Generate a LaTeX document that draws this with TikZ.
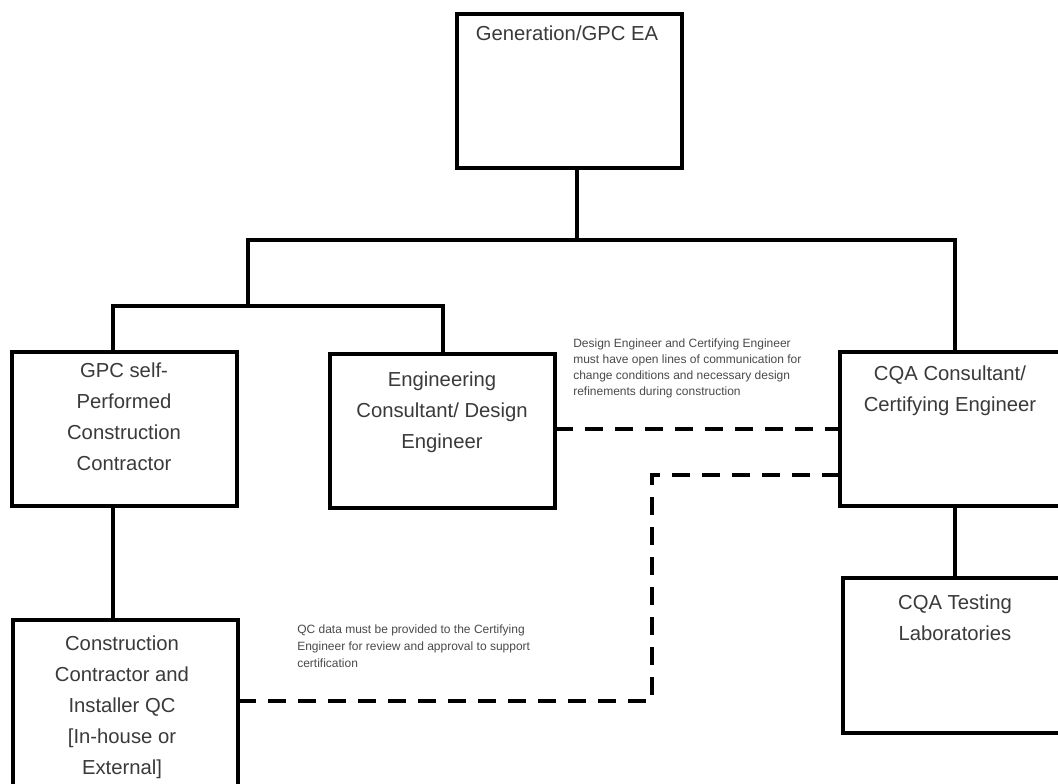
\documentclass[tikz,border=0pt]{standalone}
\usepackage{fontspec}
\setmainfont{Liberation Sans}
\definecolor{txtgray}{HTML}{3A3A3A}
\definecolor{notegray}{HTML}{4A4A4A}
\begin{document}
\begin{tikzpicture}[x=0.75pt,y=-0.75pt,
  box/.style={draw=black, line width=3.3pt, rectangle, inner sep=0pt, outer sep=0pt,
    minimum width=168.75pt, minimum height=115.5pt, anchor=north west},
  boxtext/.style={text=txtgray, align=center, inner sep=0pt, anchor=north,
    font=\fontsize{15.2}{23.25}\selectfont},
  note/.style={text=notegray, align=left, inner sep=0pt, anchor=north west,
    font=\fontsize{9}{12}\selectfont},
  conn/.style={line width=3.3pt},
  dashconn/.style={line width=3.3pt, dash pattern=on 13.5pt off 9pt}]
\useasboundingbox (0,0) rectangle (1058,783);
\fill[white] (0,0) rectangle (1058,783);

% boxes
\node[box] (top) at (457,14) {};
\node[box] (gpc) at (12,352) {};
\node[box] (eng) at (330,354) {};
\node[box] (cqa) at (840,352) {};
\node[box, minimum height=150pt] (cc) at (13,620) {};
\node[box, minimum height=116.25pt] (lab) at (843,578) {};

% box texts
\node[boxtext] (ttop) at (567,26) {Generation/GPC EA};
\node[boxtext] (tgpc) at (124,363) {GPC self-\\Performed\\Construction\\Contractor};
\node[boxtext] (teng) at (442,372) {Engineering\\Consultant/ Design\\Engineer};
\node[boxtext] (tcqa) at (950,366) {CQA Consultant/\\Certifying Engineer};
\node[boxtext] (tlab) at (955,595) {CQA Testing\\Laboratories};
\node[boxtext] (tcc) at (122,636) {Construction\\Contractor and\\Installer QC\\{[In-house or}\\External]};

% notes
\node[note] (n1) at (573,339) {Design Engineer and Certifying Engineer\\must have open lines of communication for\\change conditions and necessary design\\refinements during construction};
\node[note, font=\fontsize{9}{12.75}\selectfont] (n2) at (297,625) {QC data must be provided to the Certifying\\Engineer for review and approval to support\\certification};

% solid connectors
\coordinate (jt) at (577,240);
\coordinate (jl) at (248,240);
\coordinate (jr) at (955,240);
\coordinate (jm) at (248,306);
\coordinate (jgl) at (113,306);
\coordinate (jer) at (443,306);
\coordinate (jcc) at (113,0);
\coordinate (jlab) at (955,0);
\draw[conn] (top.south -| jt) -- (jt);
\draw[conn] (jm) -- (jl) -- (jr) -- (cqa.north -| jr);
\draw[conn] (gpc.north -| jgl) -- (jgl) -- (jer) -- (eng.north -| jer);
\draw[conn] (gpc.south -| jcc) -- (cc.north -| jcc);
\draw[conn] (cqa.south -| jlab) -- (lab.north -| jlab);

% dashed connectors
\coordinate (d1) at (0,429);
\coordinate (d2) at (652,475);
\coordinate (d3) at (652,701);
\draw[dashconn] (eng.east |- d1) -- (cqa.west |- d1);
\draw[dashconn] (cqa.west |- d2) -- (d2) -- (d3) -- (cc.east |- d3);
\end{tikzpicture}
\end{document}
